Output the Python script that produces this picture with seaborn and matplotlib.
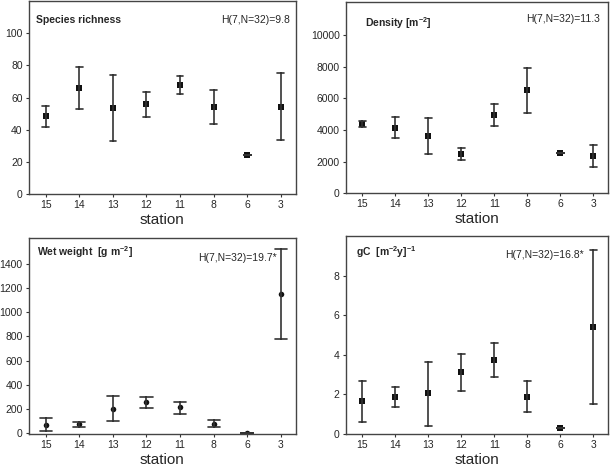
import pandas as pd
import matplotlib
matplotlib.use('Agg')
import matplotlib.pyplot as plt
import seaborn as sns

stations = ["15", "14", "13", "12", "11", "8", "6", "3"]

rich_mean = [48.5, 66, 53.6, 55.7, 67.6, 54, 24.3, 54.4]
rich_low = [42, 53, 33, 47.8, 62, 43.3, 24.3, 33.4]
rich_high = [55, 79, 74, 63.5, 73.6, 64.5, 24.3, 75.5]

dens_mean = [4370, 4140, 3610, 2450, 4960, 6500, 2550, 2340]
dens_low = [4160, 3480, 2490, 2070, 4260, 5100, 2550, 1690]
dens_high = [4580, 4810, 4750, 2870, 5630, 7930, 2550, 3020]

wet_mean = [69, 74, 198, 256, 215, 77, 0, 1152]
wet_low = [19, 52, 99, 209, 160, 52, 0, 777]
wet_high = [124, 94, 303, 298, 259, 107, 0, 1521]

gc_mean = [1.66, 1.86, 2.06, 3.13, 3.74, 1.89, 0.28, 5.38]
gc_low = [0.62, 1.37, 0.42, 2.19, 2.86, 1.12, 0.28, 1.49]
gc_high = [2.68, 2.35, 3.63, 4.05, 4.57, 2.66, 0.28, 9.28]

sns.set_theme(style="ticks")
plt.rcParams['font.family'] = ['Liberation Sans', 'DejaVu Sans']
plt.rcParams['mathtext.default'] = 'regular'


def long_df(mean, low, high):
    # three rows per station: median -> mean, full range -> error bar
    rows = []
    for s, m, lo, hi in zip(stations, mean, low, high):
        for v in (lo, m, hi):
            rows.append({"station": s, "value": v})
    return pd.DataFrame(rows)


panels = [
    # data, axes rect, ylim, yticks, title, H text, marker, cap, text positions
    ((rich_mean, rich_low, rich_high), [0.0475, 0.586, 0.4375, 0.412], (0, 120),
     range(0, 101, 20), "Species richness", "H(7,N=32)=9.8", "s", 0.2,
     (0.026, 0.90), (0.978, 0.90)),
    ((dens_mean, dens_low, dens_high), [0.567, 0.588, 0.43, 0.408], (0, 12100),
     range(0, 10001, 2000), "Density [m$^{-2}$]", "H(7,N=32)=11.3", "s", 0.2,
     (0.072, 0.89), (0.969, 0.91)),
    ((wet_mean, wet_low, wet_high), [0.0475, 0.0753, 0.4375, 0.4172], (-5, 1615),
     range(0, 1401, 200), "Wet weight  [g m$^{-2}$]", "H(7,N=32)=19.7*", "o", 0.36,
     (0.03, 0.93), (0.929, 0.90)),
    ((gc_mean, gc_low, gc_high), [0.567, 0.0746, 0.43, 0.4224], (0, 10),
     range(0, 9, 2), "gC  [m$^{-2}$y]$^{-1}$", "H(7,N=32)=16.8*", "s", 0.22,
     (0.038, 0.92), (0.908, 0.905)),
]

fig = plt.figure(figsize=(6.1, 4.69), dpi=100)

for data, rect, ylim, yticks, title, htext, marker, cap, tpos, hpos in panels:
    ax = fig.add_axes(rect)
    df = long_df(*data)
    sns.pointplot(data=df, x="station", y="value", order=stations,
                  estimator="median", errorbar=("pi", 100),
                  color="#111111", markers=marker, linestyle="none",
                  markersize=4, markeredgewidth=0, capsize=cap,
                  err_kws={"linewidth": 1.2, "color": "#333333"}, ax=ax)
    ax.set_xlim(-0.5, 7.45)
    ax.set_ylim(*ylim)
    ax.set_yticks(list(yticks))
    ax.set_xlabel("station", fontsize=11, labelpad=2)
    ax.set_ylabel("")
    ax.tick_params(labelsize=7.5, length=2.5, width=0.8, color="#333333", pad=2)
    for sp in ax.spines.values():
        sp.set_color("#444444")
        sp.set_linewidth(1.0)
    ax.text(tpos[0], tpos[1], title, transform=ax.transAxes, fontsize=7.5,
            fontweight="bold", ha="left", va="center")
    ax.text(hpos[0], hpos[1], htext, transform=ax.transAxes, fontsize=7.5,
            ha="right", va="center")

plt.savefig("out.png", dpi=100)
plt.close()
